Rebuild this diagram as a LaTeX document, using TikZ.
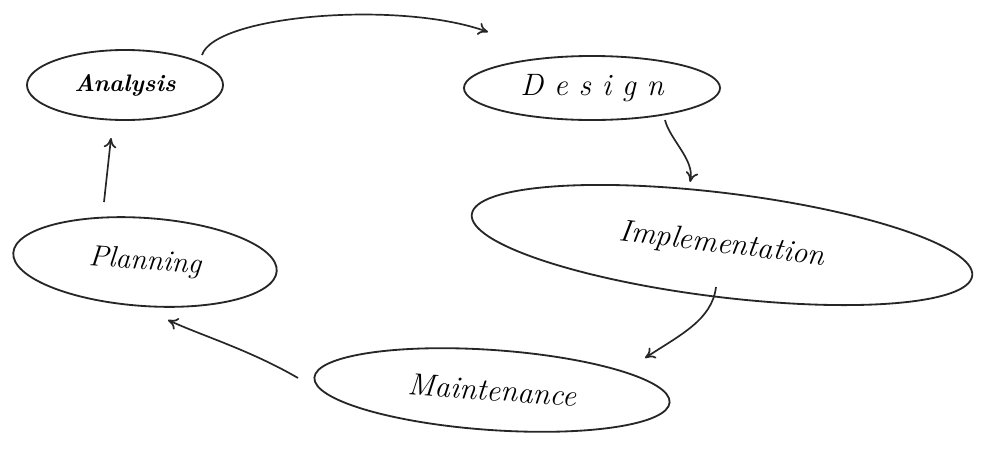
\documentclass[tikz,border=0pt]{standalone}
\usetikzlibrary{shapes.geometric,arrows.meta}
\begin{document}
\begin{tikzpicture}[x=0.025cm,y=-0.025cm,
  stage/.style={ellipse,draw=black!85,line width=1.3pt,inner sep=0pt,font=\itshape},
  flow/.style={draw=black!85,line width=1.2pt,-{To[length=7pt,width=9pt]}}]
\useasboundingbox (0,0) rectangle (984,462);
\node[stage,minimum width=4.9cm,minimum height=1.75cm,font=\itshape\bfseries\fontsize{17}{20}\selectfont] (ana) at (125,85) {Analysis};
\node[stage,minimum width=6.4cm,minimum height=1.6cm,font=\itshape\fontsize{22}{26}\selectfont] (des) at (592,88) {D e s i g n};
\node[stage,minimum width=12.6cm,minimum height=2.6cm,rotate=-7,font=\itshape\fontsize{22}{26}\selectfont] (imp) at (722,245) {Implementation};
\node[stage,minimum width=6.6cm,minimum height=2.2cm,rotate=-4,font=\itshape\fontsize{21}{25}\selectfont] (pla) at (145,262) {Planning};
\node[stage,minimum width=8.9cm,minimum height=2.0cm,rotate=-4,font=\itshape\fontsize{22}{26}\selectfont] (mai) at (492,390) {Maintenance};
\coordinate (a1) at (202,55);
\coordinate (d1) at (488,32);
\coordinate (d2) at (665,120);
\coordinate (i1) at (690,182);
\coordinate (i2) at (716,287);
\coordinate (m1) at (645,358);
\coordinate (m2) at (298,378);
\coordinate (p1) at (168,320);
\coordinate (p2) at (104,202);
\coordinate (a2) at (111,138);
\draw[flow] (a1) .. controls (215,15) and (400,0) .. (d1);
\draw[flow] (d2) .. controls (670,140) and (695,160) .. (i1);
\draw[flow] (i2) .. controls (712,320) and (680,335) .. (m1);
\draw[flow] (m2) .. controls (250,350) and (200,335) .. (p1);
\draw[flow] (p2) -- (a2);
\end{tikzpicture}
\end{document}
